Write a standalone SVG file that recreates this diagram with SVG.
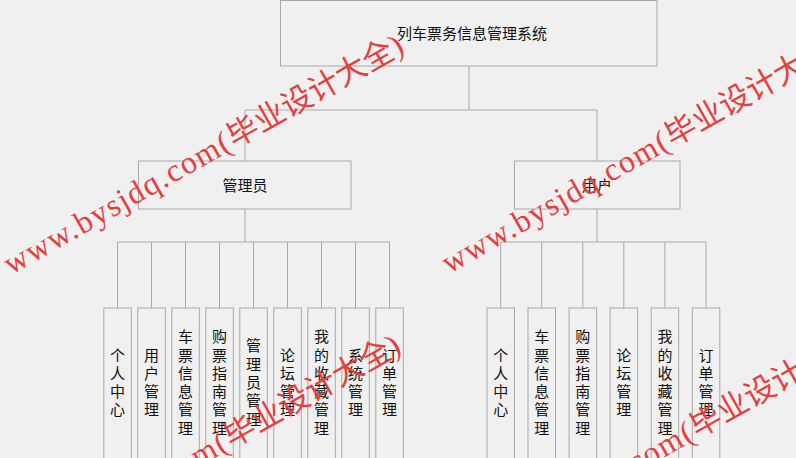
<svg xmlns="http://www.w3.org/2000/svg" xmlns:xlink="http://www.w3.org/1999/xlink" width="796" height="458" viewBox="0 0 796 458">
<style>
.box{fill:none;stroke:#a8a8a8;stroke-width:1}
.ln{fill:none;stroke:#a8a8a8;stroke-width:1}
.t{font-family:"Noto Sans CJK SC","Noto Sans",sans-serif;font-size:15px;fill:#111;text-anchor:middle}
.v{writing-mode:vertical-rl;letter-spacing:3.3px}
.wm{font-family:"Liberation Serif","Noto Sans CJK SC",serif;fill:#e3403f}
.wl{font-size:32px;letter-spacing:1.5px}
.wc{font-family:"Noto Sans CJK SC",sans-serif;font-size:31px;letter-spacing:0}
</style>
<defs>
<text id="wmt" x="0" y="0"><tspan class="wl">www.bysjdq.com(</tspan><tspan class="wc">毕业设计大全</tspan><tspan class="wl">)</tspan></text>
</defs>
<rect x="0" y="0" width="796" height="458" fill="#f0f0f0"/>
<g id="connectors">
<path class="ln" d="M469 66V110M245 110H597M245 110V161M597 110V161"/>
<path class="ln" d="M245 209V242M117.5 242H389.5M117.5 242V308M151.5 242V308M185.5 242V308M219.5 242V308M253.5 242V308M287.5 242V308M321.5 242V308M355.5 242V308M389.5 242V308"/>
<path class="ln" d="M597 209V242M500.7 242H706M500.7 242V308M541.7 242V308M582.8 242V308M623.8 242V308M664.9 242V308M706 242V308"/>
</g>
<g id="root"><rect class="box" x="280.5" y="0.5" width="376.5" height="65.5"/><text class="t" x="472" y="38.5">列车票务信息管理系统</text></g>
<g id="admin"><rect class="box" x="138.5" y="161" width="212.5" height="48"/><text class="t" x="245" y="190.5">管理员</text></g>
<g id="user"><rect class="box" x="514.5" y="161" width="165.5" height="48"/><text class="t" x="597" y="190.5">用户</text></g>
<g id="a1"><rect class="box" x="103.8" y="308" width="27.5" height="170"/><text class="t v" x="117.5" y="384">个人中心</text></g>
<g id="a2"><rect class="box" x="137.8" y="308" width="27.5" height="170"/><text class="t v" x="151.5" y="384">用户管理</text></g>
<g id="a3"><rect class="box" x="171.8" y="308" width="27.5" height="170"/><text class="t v" x="185.5" y="384">车票信息管理</text></g>
<g id="a4"><rect class="box" x="205.8" y="308" width="27.5" height="170"/><text class="t v" x="219.5" y="384">购票指南管理</text></g>
<g id="a5"><rect class="box" x="239.8" y="308" width="27.5" height="170"/><text class="t v" x="253.5" y="384">管理员管理</text></g>
<g id="a6"><rect class="box" x="273.8" y="308" width="27.5" height="170"/><text class="t v" x="287.5" y="384">论坛管理</text></g>
<g id="a7"><rect class="box" x="307.8" y="308" width="27.5" height="170"/><text class="t v" x="321.5" y="384">我的收藏管理</text></g>
<g id="a8"><rect class="box" x="341.8" y="308" width="27.5" height="170"/><text class="t v" x="355.5" y="384">系统管理</text></g>
<g id="a9"><rect class="box" x="375.8" y="308" width="27.5" height="170"/><text class="t v" x="389.5" y="384">订单管理</text></g>
<g id="u1"><rect class="box" x="487" y="308" width="27.5" height="170"/><text class="t v" x="500.7" y="384">个人中心</text></g>
<g id="u2"><rect class="box" x="528" y="308" width="27.5" height="170"/><text class="t v" x="541.7" y="384">车票信息管理</text></g>
<g id="u3"><rect class="box" x="569.1" y="308" width="27.5" height="170"/><text class="t v" x="582.8" y="384">购票指南管理</text></g>
<g id="u4"><rect class="box" x="610.1" y="308" width="27.5" height="170"/><text class="t v" x="623.8" y="384">论坛管理</text></g>
<g id="u5"><rect class="box" x="651.2" y="308" width="27.5" height="170"/><text class="t v" x="664.9" y="384">我的收藏管理</text></g>
<g id="u6"><rect class="box" x="692.3" y="308" width="27.5" height="170"/><text class="t v" x="706" y="384">订单管理</text></g>
<g id="watermark" class="wm">
<use xlink:href="#wmt" transform="translate(11,275) rotate(-29.5)"/>
<use xlink:href="#wmt" transform="translate(449,274) rotate(-29.5)"/>
<use xlink:href="#wmt" transform="translate(8,575) rotate(-29.5)"/>
<use xlink:href="#wmt" transform="translate(474,565) rotate(-29.5)"/>
</g>
</svg>
